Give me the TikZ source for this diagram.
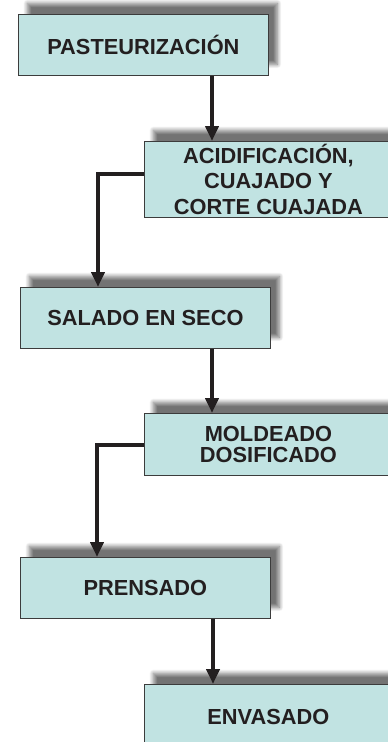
\documentclass[tikz,border=0pt]{standalone}
\usepackage{fontspec}
\setmainfont{Liberation Sans}
\usetikzlibrary{arrows.meta,shadows.blur}
\definecolor{cajafondo}{RGB}{193,227,226}
\definecolor{cajaborde}{RGB}{60,60,60}
\definecolor{tinta}{RGB}{35,31,32}

\begin{document}
\begin{tikzpicture}[x=1pt,y=-1pt,
paso/.style={draw=cajaborde, line width=.8pt, fill=cajafondo, anchor=north west,
	text=tinta, align=center, inner sep=0pt,
	font=\bfseries\fontsize{21.8}{25.5}\selectfont,
	blur shadow={shadow xshift=9pt, shadow yshift=11pt, shadow blur radius=4pt,
		shadow blur steps=10, shadow opacity=55}},
izq/.style={paso, minimum width=\wl pt},
der/.style={paso, minimum width=\wr pt},
flecha/.style={line width=4pt, draw=tinta, -{Triangle[width=13pt,length=15pt]}}
]

\def\wl{250}
\def\wr{248}
\def\h{61}

\useasboundingbox (0,0) rectangle (388,742);
\clip (0,0) rectangle (388,742);

%%% pasos
\node[izq, minimum height=\h pt] (past) at (18,14) {PASTEURIZACIÓN};
\node[der, minimum height=76pt] (acid) at (144,141) {ACIDIFICACIÓN,\\CUAJADO Y\\CORTE CUAJADA};
\node[izq, minimum height=\h pt] (sal) at (20,287) {SALADO EN SECO};
\node[der, minimum height=62pt] (mold) at (144,413) {MOLDEADO\\[-3.8pt]DOSIFICADO};
\node[izq, minimum height=\h pt] (pren) at (20,557) {PRENSADO};
\node[der, minimum height=66pt] (env) at (144,684) {ENVASADO};

%%% flechas
\path (212,0) coordinate(d) (98,174) coordinate(e1) (97,445) coordinate(e2) (213,0) coordinate(d2);
\draw[flecha] (past.south -| d) -- (acid.north -| d);
\draw[flecha] (acid.west |- e1) -- (e1) -- (sal.north -| e1);
\draw[flecha] (sal.south -| d) -- (mold.north -| d);
\draw[flecha] (mold.west |- e2) -- (e2) -- (pren.north -| e2);
\draw[flecha] (pren.south -| d2) -- (env.north -| d2);

\end{tikzpicture}
\end{document}
